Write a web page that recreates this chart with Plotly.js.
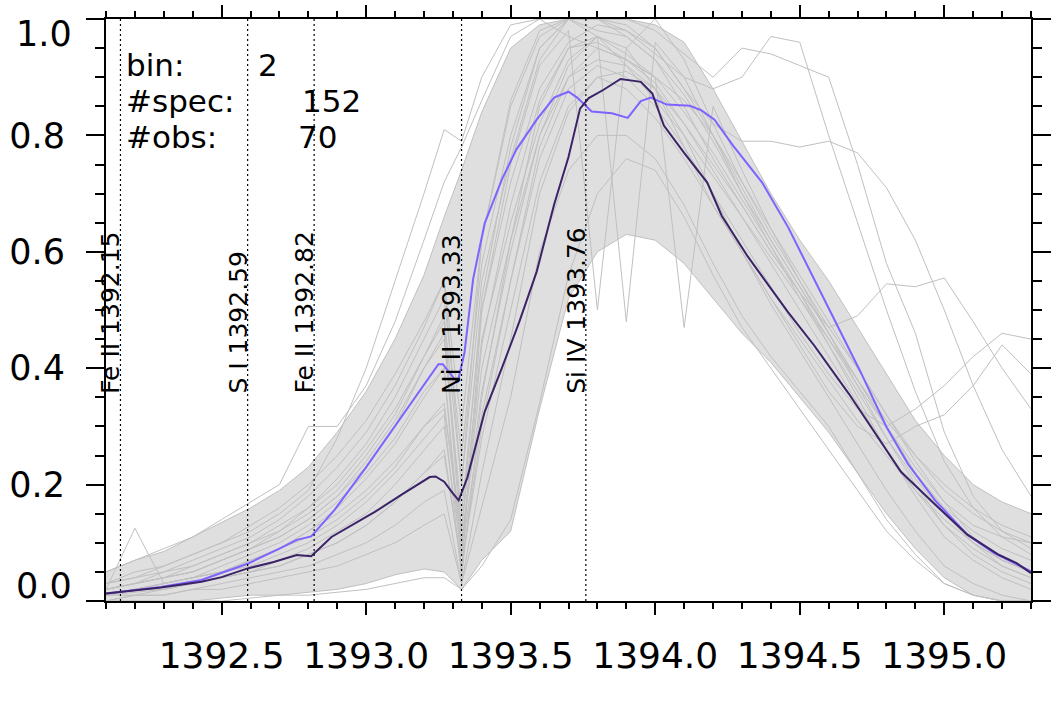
<!DOCTYPE html>
<html>
<head>
<meta charset="utf-8">
<script src="https://cdn.plot.ly/plotly-3.0.1.min.js"></script>
<style>html,body{margin:0;padding:0;background:#fff;}#chart{width:1062px;height:707px;}</style>
</head>
<body>
<div id="chart"></div>
<script>
// ---------------- data ----------------
const lineWaves = [1392.15, 1392.59, 1392.82, 1393.33, 1393.76];
const lineNames = ["Fe II 1392.15", "S I 1392.59", "Fe II 1392.82", "Ni II 1393.33", "Si IV 1393.76"];

const infoLabels = ["bin:", "#spec:", "#obs:"];
const infoValues = ["2", "152", "70"];

const xTickRange = [1392.1, 1395.3];
const yTickVals = [0.0, 0.2, 0.4, 0.6, 0.8, 1.0];
const yTickText = ["", "0.2", "0.4", "0.6", "0.8", ""];
const yEndLabels = ["0.0", "1.0"];

// light purple average profile
const lightWave = [1392.10, 1392.29, 1392.43, 1392.59, 1392.70, 1392.76, 1392.81, 1392.89, 1393.00, 1393.12,
  1393.25, 1393.265, 1393.30, 1393.316, 1393.34, 1393.37, 1393.41, 1393.47, 1393.52, 1393.59,
  1393.65, 1393.70, 1393.73, 1393.78, 1393.85, 1393.905, 1393.95, 1393.985, 1394.04, 1394.12,
  1394.16, 1394.205, 1394.27, 1394.37, 1394.46, 1394.53, 1394.62, 1394.71, 1394.80, 1394.875,
  1394.97, 1395.08, 1395.17, 1395.30];
const lightFlux = [0.013, 0.024, 0.036, 0.064, 0.090, 0.105, 0.111, 0.156, 0.230, 0.316,
  0.407, 0.407, 0.385, 0.375, 0.426, 0.553, 0.649, 0.725, 0.776, 0.827,
  0.865, 0.875, 0.865, 0.841, 0.838, 0.830, 0.859, 0.865, 0.853, 0.851,
  0.843, 0.827, 0.782, 0.719, 0.642, 0.572, 0.483, 0.394, 0.299, 0.235,
  0.172, 0.114, 0.083, 0.051];

// dark purple average profile
const darkWave = [1392.10, 1392.20, 1392.29, 1392.43, 1392.50, 1392.59, 1392.68, 1392.76, 1392.81, 1392.88,
  1392.95, 1393.03, 1393.12, 1393.22, 1393.24, 1393.27, 1393.30, 1393.32, 1393.35, 1393.41,
  1393.47, 1393.53, 1393.59, 1393.65, 1393.70, 1393.74, 1393.77, 1393.82, 1393.88, 1393.95,
  1393.99, 1394.03, 1394.10, 1394.18, 1394.23, 1394.32, 1394.46, 1394.55, 1394.67, 1394.78,
  1394.85, 1394.97, 1395.08, 1395.19, 1395.25, 1395.30];
const darkFlux = [0.013, 0.018, 0.023, 0.033, 0.041, 0.056, 0.067, 0.079, 0.077, 0.110,
  0.130, 0.153, 0.182, 0.213, 0.214, 0.205, 0.185, 0.173, 0.212, 0.325,
  0.401, 0.480, 0.566, 0.681, 0.763, 0.846, 0.864, 0.878, 0.897, 0.892,
  0.872, 0.817, 0.770, 0.719, 0.662, 0.592, 0.496, 0.439, 0.356, 0.273,
  0.222, 0.165, 0.114, 0.079, 0.065, 0.048];

// individual spectra, sampled on a common wavelength grid
const grayWave = [1392.1, 1392.2, 1392.3, 1392.4, 1392.5, 1392.6, 1392.7, 1392.8, 1392.9, 1393.0,
  1393.1, 1393.2, 1393.27, 1393.33, 1393.4, 1393.5, 1393.6, 1393.7, 1393.8, 1393.9,
  1394.0, 1394.1, 1394.2, 1394.3, 1394.4, 1394.5, 1394.6, 1394.7, 1394.8, 1394.9,
  1395.0, 1395.1, 1395.2, 1395.3];
// envelope of the dense bundle of spectra
const bundleUpper = [0.05, 0.07, 0.085, 0.11, 0.135, 0.16, 0.19, 0.23, 0.29, 0.36,
  0.45, 0.56, 0.66, 0.74, 0.84, 0.95, 0.99, 1.0, 1.0, 1.0,
  0.99, 0.96, 0.88, 0.79, 0.70, 0.62, 0.55, 0.47, 0.39, 0.31,
  0.25, 0.20, 0.17, 0.15];
const bundleLower = [0.0, 0.0, 0.0, 0.0, 0.005, 0.01, 0.01, 0.015, 0.02, 0.03,
  0.045, 0.055, 0.05, 0.02, 0.07, 0.12, 0.33, 0.52, 0.60, 0.63,
  0.62, 0.58, 0.52, 0.46, 0.41, 0.35, 0.29, 0.22, 0.15, 0.09,
  0.04, 0.01, 0.0, 0.0];
const spec01 = [0.05, 0.07, 0.09, 0.11, 0.14, 0.17, 0.20, 0.30, 0.30, 0.37, 0.48, 0.62, 0.72, 0.78, 0.86, 0.97, 1.0, 1.0, 0.98, 0.97, 0.93, 0.85, 0.76, 0.68, 0.60, 0.53, 0.45, 0.37, 0.30, 0.22, 0.16, 0.12, 0.09, 0.07];
const spec02 = [0.03, 0.05, 0.06, 0.08, 0.10, 0.12, 0.15, 0.19, 0.28, 0.40, 0.55, 0.70, 0.81, 0.79, 0.90, 0.99, 1.0, 0.97, 0.95, 0.93, 0.90, 0.86, 0.80, 0.72, 0.64, 0.56, 0.48, 0.40, 0.32, 0.25, 0.19, 0.15, 0.12, 0.10];
const spec03 = [0.02, 0.125, 0.03, 0.04, 0.05, 0.07, 0.09, 0.12, 0.15, 0.19, 0.24, 0.30, 0.33, 0.12, 0.45, 0.65, 0.82, 0.93, 0.97, 0.95, 0.88, 0.78, 0.68, 0.60, 0.52, 0.45, 0.38, 0.31, 0.25, 0.19, 0.14, 0.10, 0.07, 0.05];
const spec04 = [0.0, 0.0, 0.0, 0.0, 0.0, 0.005, 0.01, 0.01, 0.015, 0.02, 0.03, 0.04, 0.04, 0.02, 0.06, 0.14, 0.34, 0.56, 0.70, 0.76, 0.74, 0.66, 0.56, 0.47, 0.40, 0.33, 0.26, 0.19, 0.12, 0.07, 0.03, 0.01, 0.0, 0.0];
const spec05 = [0.01, 0.02, 0.03, 0.04, 0.06, 0.08, 0.10, 0.13, 0.17, 0.22, 0.28, 0.36, 0.40, 0.05, 0.50, 0.75, 0.92, 0.98, 0.50, 0.95, 1.0, 0.93, 0.82, 0.72, 0.63, 0.55, 0.47, 0.40, 0.32, 0.24, 0.17, 0.11, 0.07, 0.05];
const spec06 = [0.02, 0.03, 0.04, 0.05, 0.07, 0.09, 0.11, 0.14, 0.18, 0.23, 0.30, 0.40, 0.46, 0.10, 0.40, 0.62, 0.80, 0.92, 0.97, 0.48, 0.96, 0.90, 0.80, 0.70, 0.62, 0.54, 0.46, 0.38, 0.30, 0.22, 0.15, 0.10, 0.06, 0.04];
const spec07 = [0.01, 0.015, 0.02, 0.03, 0.04, 0.05, 0.06, 0.08, 0.10, 0.13, 0.17, 0.22, 0.25, 0.06, 0.30, 0.55, 0.78, 0.90, 0.95, 0.93, 0.90, 0.47, 0.85, 0.74, 0.64, 0.55, 0.46, 0.37, 0.28, 0.20, 0.13, 0.08, 0.05, 0.03];
const spec08 = [0.03, 0.04, 0.06, 0.08, 0.10, 0.13, 0.16, 0.20, 0.25, 0.31, 0.39, 0.48, 0.55, 0.30, 0.62, 0.85, 0.97, 1.0, 1.0, 0.99, 0.95, 0.88, 0.82, 0.79, 0.79, 0.78, 0.79, 0.77, 0.71, 0.62, 0.50, 0.37, 0.26, 0.18];
const spec09 = [0.02, 0.03, 0.05, 0.06, 0.08, 0.10, 0.13, 0.16, 0.21, 0.27, 0.35, 0.45, 0.52, 0.25, 0.58, 0.80, 0.95, 1.0, 1.0, 1.0, 0.98, 0.94, 0.90, 0.95, 0.94, 0.92, 0.90, 0.75, 0.58, 0.46, 0.29, 0.18, 0.12, 0.09];
const spec10 = [0.02, 0.03, 0.04, 0.05, 0.07, 0.09, 0.12, 0.15, 0.19, 0.25, 0.32, 0.42, 0.49, 0.20, 0.55, 0.76, 0.93, 1.0, 1.0, 0.98, 0.94, 0.90, 0.88, 0.90, 0.97, 0.96, 0.80, 0.65, 0.50, 0.36, 0.24, 0.16, 0.11, 0.08];
const spec11 = [0.01, 0.02, 0.03, 0.04, 0.05, 0.07, 0.09, 0.11, 0.14, 0.18, 0.23, 0.30, 0.34, 0.10, 0.36, 0.60, 0.80, 0.90, 0.93, 0.92, 0.88, 0.82, 0.75, 0.68, 0.60, 0.53, 0.47, 0.49, 0.545, 0.54, 0.555, 0.48, 0.40, 0.33];
const spec12 = [0.01, 0.02, 0.02, 0.03, 0.04, 0.05, 0.07, 0.09, 0.12, 0.15, 0.20, 0.26, 0.30, 0.08, 0.32, 0.55, 0.76, 0.88, 0.92, 0.90, 0.85, 0.78, 0.70, 0.62, 0.54, 0.46, 0.39, 0.33, 0.30, 0.33, 0.37, 0.42, 0.46, 0.45];
const spec13 = [0.01, 0.01, 0.02, 0.03, 0.04, 0.05, 0.06, 0.08, 0.10, 0.13, 0.17, 0.22, 0.26, 0.06, 0.28, 0.50, 0.72, 0.85, 0.90, 0.88, 0.83, 0.76, 0.68, 0.60, 0.52, 0.44, 0.36, 0.30, 0.27, 0.30, 0.32, 0.37, 0.44, 0.39];
const spec14 = [0.0, 0.01, 0.01, 0.02, 0.02, 0.03, 0.04, 0.05, 0.06, 0.08, 0.10, 0.13, 0.15, 0.03, 0.16, 0.35, 0.60, 0.74, 0.80, 0.80, 0.76, 0.68, 0.58, 0.49, 0.42, 0.36, 0.30, 0.22, 0.14, 0.08, 0.03, 0.01, 0.0, 0.0];
const spec15 = [0.02, 0.03, 0.04, 0.05, 0.07, 0.09, 0.11, 0.14, 0.18, 0.24, 0.31, 0.40, 0.45, 0.15, 0.50, 0.72, 0.88, 0.96, 0.99, 0.98, 0.95, 0.88, 0.80, 0.71, 0.62, 0.54, 0.46, 0.38, 0.30, 0.23, 0.17, 0.13, 0.11, 0.10];
const spec16 = [0.01, 0.02, 0.02, 0.03, 0.05, 0.06, 0.08, 0.10, 0.13, 0.17, 0.22, 0.28, 0.32, 0.04, 0.35, 0.62, 0.85, 0.95, 0.97, 0.94, 0.90, 0.84, 0.77, 0.69, 0.61, 0.53, 0.44, 0.35, 0.26, 0.18, 0.11, 0.07, 0.04, 0.02];
const spec17 = [0.01, 0.02, 0.03, 0.04, 0.05, 0.07, 0.09, 0.12, 0.16, 0.21, 0.27, 0.35, 0.40, 0.08, 0.44, 0.68, 0.86, 0.95, 0.96, 0.93, 0.89, 0.82, 0.74, 0.66, 0.58, 0.50, 0.42, 0.34, 0.26, 0.19, 0.13, 0.09, 0.06, 0.04];
const spec18 = [0.03, 0.04, 0.05, 0.07, 0.09, 0.11, 0.14, 0.18, 0.23, 0.29, 0.37, 0.47, 0.55, 0.20, 0.62, 0.86, 0.98, 1.0, 0.97, 0.92, 0.86, 0.80, 0.73, 0.66, 0.59, 0.52, 0.45, 0.38, 0.31, 0.25, 0.20, 0.16, 0.13, 0.11];
const spec19 = [0.0, 0.01, 0.01, 0.02, 0.03, 0.04, 0.05, 0.06, 0.08, 0.10, 0.13, 0.17, 0.19, 0.03, 0.22, 0.45, 0.70, 0.84, 0.90, 0.91, 0.88, 0.80, 0.70, 0.60, 0.51, 0.43, 0.35, 0.27, 0.19, 0.12, 0.06, 0.03, 0.01, 0.0];
const spec20 = [0.02, 0.03, 0.04, 0.06, 0.08, 0.10, 0.12, 0.16, 0.20, 0.26, 0.33, 0.42, 0.48, 0.12, 0.52, 0.78, 0.95, 1.0, 1.0, 0.97, 0.93, 0.87, 0.79, 0.70, 0.61, 0.52, 0.44, 0.36, 0.28, 0.21, 0.15, 0.10, 0.07, 0.05];
const grayFluxes = [spec01, spec02, spec03, spec04, spec05, spec06, spec07, spec08, spec09, spec10,
  spec11, spec12, spec13, spec14, spec15, spec16, spec17, spec18, spec19, spec20];

// ---------------- drawing ----------------
const FONT = "'DejaVu Sans', sans-serif";
const GRAY = "#c0c0c0";

// pixel helpers for text placement (plot area 106..1031 x 19..601)
const PL = 106, PR = 1031, PT = 19, PB = 601;
const px2paperX = p => (p - PL) / (PR - PL);
const px2paperY = p => (PB - p) / (PB - PT);

const traces = [];
traces.push({x: grayWave, y: bundleLower, type: "scatter", mode: "lines",
  line: {width: 0, color: GRAY}, hoverinfo: "skip", showlegend: false});
traces.push({x: grayWave, y: bundleUpper, type: "scatter", mode: "lines", fill: "tonexty",
  fillcolor: "rgba(192,192,192,0.5)", line: {width: 1, color: GRAY}, hoverinfo: "skip", showlegend: false});
traces.push({x: grayWave, y: bundleLower, type: "scatter", mode: "lines",
  line: {width: 1, color: GRAY}, hoverinfo: "skip", showlegend: false});
grayFluxes.forEach(f => traces.push({x: grayWave, y: f, type: "scatter", mode: "lines",
  line: {width: 1, color: GRAY}, hoverinfo: "skip", showlegend: false}));
traces.push({x: lightWave, y: lightFlux, type: "scatter", mode: "lines",
  line: {width: 2, color: "#8062ff"}, showlegend: false});
traces.push({x: darkWave, y: darkFlux, type: "scatter", mode: "lines",
  line: {width: 2, color: "#3b2368"}, showlegend: false});

const shapes = lineWaves.map(w => ({type: "line", xref: "x", yref: "paper", x0: w, x1: w, y0: 0, y1: 1,
  line: {color: "black", width: 1.2, dash: "2px,3px"}, layer: "above"}));

const annotations = [];
lineWaves.forEach((w, i) => annotations.push({x: w, y: 0.354, xref: "x", yref: "y",
  text: lineNames[i], showarrow: false, textangle: -90, xanchor: "right", yanchor: "bottom",
  xshift: 6, borderpad: 0, font: {family: FONT, size: 25, color: "black"}}));

const infoY = [65, 101, 137];
const valueX = [257, 301, 297];
infoLabels.forEach((t, i) => {
  annotations.push({x: px2paperX(125), y: px2paperY(infoY[i]), xref: "paper", yref: "paper",
    text: t, showarrow: false, xanchor: "left", yanchor: "middle", borderpad: 0,
    font: {family: FONT, size: 31, color: "black"}});
  annotations.push({x: px2paperX(valueX[i]), y: px2paperY(infoY[i]), xref: "paper", yref: "paper",
    text: infoValues[i], showarrow: false, xanchor: "left", yanchor: "middle", borderpad: 0,
    font: {family: FONT, size: 31, color: "black"}});
});
// end labels of the y axis, drawn inside the range as in the original
annotations.push({x: px2paperX(73), y: px2paperY(586), xref: "paper", yref: "paper", text: yEndLabels[0],
  showarrow: false, xanchor: "right", yanchor: "middle", borderpad: 0, font: {family: FONT, size: 35, color: "black"}});
annotations.push({x: px2paperX(73), y: px2paperY(34), xref: "paper", yref: "paper", text: yEndLabels[1],
  showarrow: false, xanchor: "right", yanchor: "middle", borderpad: 0, font: {family: FONT, size: 35, color: "black"}});

const layout = {
  width: 1062, height: 707,
  margin: {l: PL, r: 1062 - PR, t: PT, b: 707 - PB},
  paper_bgcolor: "white", plot_bgcolor: "white",
  showlegend: false,
  font: {family: FONT, color: "black"},
  xaxis: {range: xTickRange, showgrid: false, zeroline: false, showline: true, linewidth: 2, linecolor: "black",
    mirror: "allticks", ticks: "outside", ticklen: 12, tickwidth: 2, tickcolor: "black",
    dtick: 0.5, tick0: 1392.5, tickformat: ".1f", tickfont: {family: FONT, size: 36, color: "black"},
    ticklabelstandoff: 10,
    minor: {dtick: 0.1, tick0: 1392.1, ticks: "outside", ticklen: 6, tickwidth: 2, tickcolor: "black", showgrid: false}},
  yaxis: {range: [0, 1], showgrid: false, zeroline: false, showline: true, linewidth: 2, linecolor: "black",
    mirror: "allticks", ticks: "outside", ticklen: 18, tickwidth: 2, tickcolor: "black",
    tickmode: "array", tickvals: yTickVals, ticktext: yTickText,
    tickfont: {family: FONT, size: 35, color: "black"}, ticklabelstandoff: 14,
    minor: {dtick: 0.05, tick0: 0, ticks: "outside", ticklen: 9, tickwidth: 2, tickcolor: "black", showgrid: false}},
  shapes: shapes,
  annotations: annotations
};

Plotly.newPlot("chart", traces, layout, {staticPlot: true, displayModeBar: false});
</script>
</body>
</html>
